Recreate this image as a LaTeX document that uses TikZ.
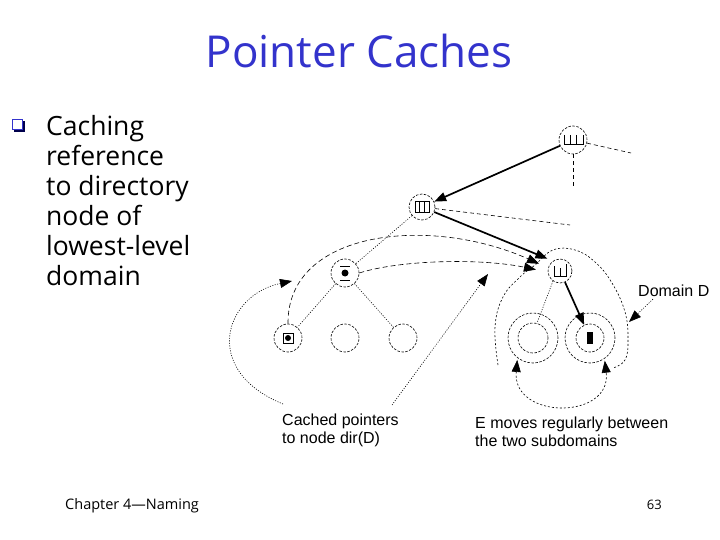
\documentclass[tikz,border=0pt]{standalone}
\usepackage{fontspec}
\setmainfont{Liberation Sans}
\newfontfamily\slidefont{Open Sans}
\usepackage{tikz}
\usetikzlibrary{arrows.meta}
\definecolor{titleblue}{RGB}{51,51,204}

\begin{document}
\begin{tikzpicture}[x=1pt, y=-1pt, >={Triangle[length=12pt,width=9pt]},
  ring/.style={circle, draw, dash pattern=on 2.5pt off 1.5pt, line width=0.6pt, inner sep=0pt, minimum size=#1},
  ring/.default=28pt,
  treeedge/.style={dash pattern=on 1pt off 1.5pt, line width=0.6pt},
  stub/.style={dash pattern=on 4pt off 3pt, line width=0.6pt},
  ptr/.style={->, line width=1.7pt},
  cached/.style={->, dash pattern=on 5pt off 3pt, line width=0.6pt},
  bound/.style={dash pattern=on 2pt off 2pt, line width=0.6pt},
  leader/.style={->, dash pattern=on 1pt off 1.5pt, line width=0.6pt},
  lbl/.style={font=\fontsize{16}{17.5}\selectfont, align=left, inner sep=0pt}]
\useasboundingbox (0,0) rectangle (720,540);

% title and bullet
\node[text=titleblue, font=\slidefont\fontsize{44}{48}\selectfont] (title) at (359,51) {Pointer Caches};
\fill[blue!30!black] (14,121) rectangle (25,132);
\draw[fill=white, draw=titleblue, line width=0.8pt] (12,119) rectangle (22.5,129.5);
\node[anchor=north west, font=\slidefont\fontsize{26.5}{30}\selectfont, align=left, inner sep=0pt] (bullet) at (46,115)
  {Caching\\reference\\to directory\\node of\\lowest-level\\domain};

% tree nodes
\node[ring] (root) at (573,140) {};
\draw[line width=0.7pt] (564,135) -- (564,144) -- (583,144) -- (583,135);
\foreach \x in {570.3,576.7} \draw[line width=0.7pt] (\x,135) -- (\x,144);

\node[ring=26pt] (dir2) at (422,207) {};
\draw[line width=0.7pt] (415,201.5) rectangle (429,212.5);
\foreach \x in {419.7,424.3} \draw[line width=0.7pt] (\x,201.5) -- (\x,212.5);

\node[ring=24pt] (dirD) at (560,271) {};
\draw[line width=0.7pt] (554,266) -- (554,276) -- (566,276) -- (566,264);
\draw[line width=0.7pt] (560,268) -- (560,276);

\node[ring] (cacheL) at (345,273) {};
\fill (cacheL) circle (3.5);
\draw[line width=0.7pt] (340,266) -- (350,266) (340,280) -- (350,280);

\node[ring] (leafA) at (288,338) {};
\draw[line width=0.7pt] (283,333) rectangle (293,343);
\fill (leafA) circle (3);
\node[ring] (leafB) at (345,338) {};
\node[ring] (leafC) at (403,338) {};

% subdomains of D
\node[ring=30pt] (subL) at (533,338) {};
\node[ring=50pt] (ringL) at (533,338) {};
\node[ring=28pt] (subR) at (590,338) {};
\node[ring=50pt] (ringR) at (590,338) {};
\fill (587,332) rectangle (593,344);

% stubs to the rest of the tree
\coordinate (rootE) at (631,153);
\coordinate (rootS) at (573,188);
\coordinate (dir2E) at (570,225);
\draw[stub] (root) -- (rootE);
\draw[stub] (root) -- (rootS);
\draw[stub] (dir2) -- (dir2E);

% edges
\draw[ptr] (root) -- (dir2);
\draw[ptr, shorten >=6pt] (dir2) -- (dirD.125);
\draw[ptr] (dirD) -- (subR);
\draw[treeedge] (dirD.235) -- (subL.75);
\draw[treeedge] (dir2) -- (cacheL);
\draw[treeedge] (cacheL) -- (leafA);
\draw[treeedge] (cacheL) -- (leafC);

% cached pointers to dir(D)
\draw[cached, shorten >=10pt] (leafA.north) .. controls (287,230) and (430,215) .. (dirD.165);
\draw[cached, shorten >=12pt] (cacheL.east) .. controls (400,260) and (480,258) .. (dirD.185);

% domain D
\draw[bound] plot[smooth, tension=0.7] coordinates {(498,365) (495,327) (503,297) (520,277) (535,265)
  (553,250) (575,250) (595,262) (612,283) (625,312) (628,340) (625,360) (613,368)};
\draw[bound, <->, shorten <=2pt, shorten >=2pt] (ringL.-128) .. controls (512,420) and (612,420) .. (ringR.-55);

% labels
\node[lbl, anchor=north west] (domlbl) at (638,285) {Domain D};
\coordinate (domtip) at (629,322);
\draw[leader] ([xshift=15pt,yshift=-2pt]domlbl.south west) -- (domtip);

\node[lbl, anchor=north west] (cachedlbl) at (282,414) {Cached pointers\\to node dir(D)};
\coordinate (cacheTipA) at (292,281);
\coordinate (cacheTipB) at (488,274);
\draw[leader] ([xshift=1pt,yshift=10pt]cachedlbl.north west) .. controls (200,370) and (225,295) .. (cacheTipA);
\draw[leader] ([xshift=110pt,yshift=9pt]cachedlbl.north west) -- (cacheTipB);

\node[lbl, anchor=north west] (moveslbl) at (475,417) {E moves regularly between\\the two subdomains};

% footer
\node[anchor=base west, font=\slidefont\fontsize{14.5}{16}\selectfont, inner sep=0pt] (chapter) at (65,509) {Chapter 4—Naming};
\node[anchor=base east, font=\slidefont\fontsize{13}{15}\selectfont, inner sep=0pt] (page) at (662,509) {63};
\end{tikzpicture}
\end{document}
